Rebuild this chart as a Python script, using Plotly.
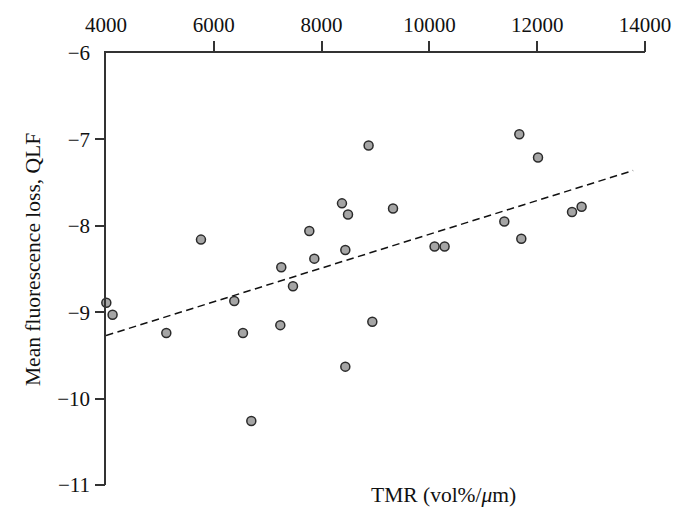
import plotly.graph_objects as go

tmr = [4006, 4122, 5119, 5762, 6380, 6541, 6696, 7234, 7252, 7469, 7772, 7865,
       8378, 8440, 8440, 8490, 8872, 8941, 9325, 10096, 10282, 11390, 11668,
       11705, 12015, 12646, 12824]
qlf = [-8.89, -9.03, -9.24, -8.16, -8.87, -9.24, -10.26, -9.15, -8.48, -8.70,
       -8.06, -8.38, -7.74, -8.28, -9.63, -7.87, -7.07, -9.11, -7.80, -8.24,
       -8.24, -7.95, -6.94, -8.15, -7.21, -7.84, -7.78]

trend_x = [4000, 13780]
trend_y = [-9.27, -7.36]

x_ticks = [4000, 6000, 8000, 10000, 12000, 14000]
y_ticks = [-11, -10, -9, -8, -7, -6]
# tick marks are not drawn at the corner where the two axes meet
x_marks = [6000, 8000, 10000, 12000, 14000]
y_marks = [-11, -10, -9, -8, -7]

FONT = "Liberation Serif"
AX = "#333333"

# page has an 8px body margin, so the figure is offset by 8px
OFF = 8
L, R, T, B = 98, 38, 45, 35
W, H = 683 - OFF, 520 - OFF
pw = W - L - R
ph = H - T - B

def px_x(page_x):
    return (page_x - OFF - L) / pw

def px_y(page_y):
    return 1 - (page_y - OFF - T) / ph

fig = go.Figure()
# invisible helper traces so the tick-mark-only axes get drawn
fig.add_trace(go.Scatter(x=trend_x, y=trend_y, xaxis="x2", yaxis="y",
                         mode="lines", line=dict(width=0), opacity=0,
                         hoverinfo="skip", showlegend=False))
fig.add_trace(go.Scatter(x=trend_x, y=trend_y, xaxis="x", yaxis="y2",
                         mode="lines", line=dict(width=0), opacity=0,
                         hoverinfo="skip", showlegend=False))
fig.add_trace(go.Scatter(
    x=trend_x, y=trend_y, mode="lines",
    line=dict(color="#111111", width=1.5, dash="7.5px,4.5px"),
    hoverinfo="skip", showlegend=False,
))
fig.add_trace(go.Scatter(
    x=tmr, y=qlf, mode="markers",
    marker=dict(size=9, color="#a5a5a5", line=dict(color="#2a2a2a", width=1.5)),
    cliponaxis=False, showlegend=False,
))

fig.update_layout(
    width=W, height=H,
    margin=dict(l=L, r=R, t=T, b=B),
    paper_bgcolor="white", plot_bgcolor="white",
    font=dict(family=FONT, size=21, color="#111111"),
    xaxis=dict(
        range=[4000, 14000], side="top", tickvals=x_ticks,
        ticktext=[str(v) for v in x_ticks],
        showline=True, linecolor=AX, linewidth=1.5,
        ticks="", ticklabelstandoff=11,
        showgrid=False, zeroline=False, automargin=False,
    ),
    yaxis=dict(
        range=[-11, -6], tickvals=y_ticks,
        ticktext=["\u2212" + str(abs(v)) for v in y_ticks],
        showline=True, linecolor=AX, linewidth=1.5,
        ticks="", ticklabelstandoff=10,
        showgrid=False, zeroline=False, automargin=False,
    ),
    xaxis2=dict(
        range=[4000, 14000], side="top", overlaying="x", anchor="y",
        tickvals=x_marks, showticklabels=False, showline=False,
        ticks="outside", ticklen=11, tickwidth=1.5, tickcolor=AX,
        showgrid=False, zeroline=False, automargin=False,
    ),
    yaxis2=dict(
        range=[-11, -6], side="left", overlaying="y", anchor="x",
        tickvals=y_marks, showticklabels=False, showline=False,
        ticks="outside", ticklen=10, tickwidth=1.5, tickcolor=AX,
        showgrid=False, zeroline=False, automargin=False,
    ),
    annotations=[
        dict(text="TMR (vol%/<i>\u03bc</i>m)", x=px_x(443), y=px_y(495),
             xref="paper", yref="paper", showarrow=False,
             xanchor="center", yanchor="middle",
             font=dict(family=FONT, size=21.5)),
        dict(text="Mean fluorescence loss, QLF", textangle=-90,
             x=px_x(33), y=px_y(260), xref="paper", yref="paper",
             showarrow=False, xanchor="center", yanchor="middle",
             font=dict(family=FONT, size=21.5)),
    ],
)

fig.write_html("out.html")
